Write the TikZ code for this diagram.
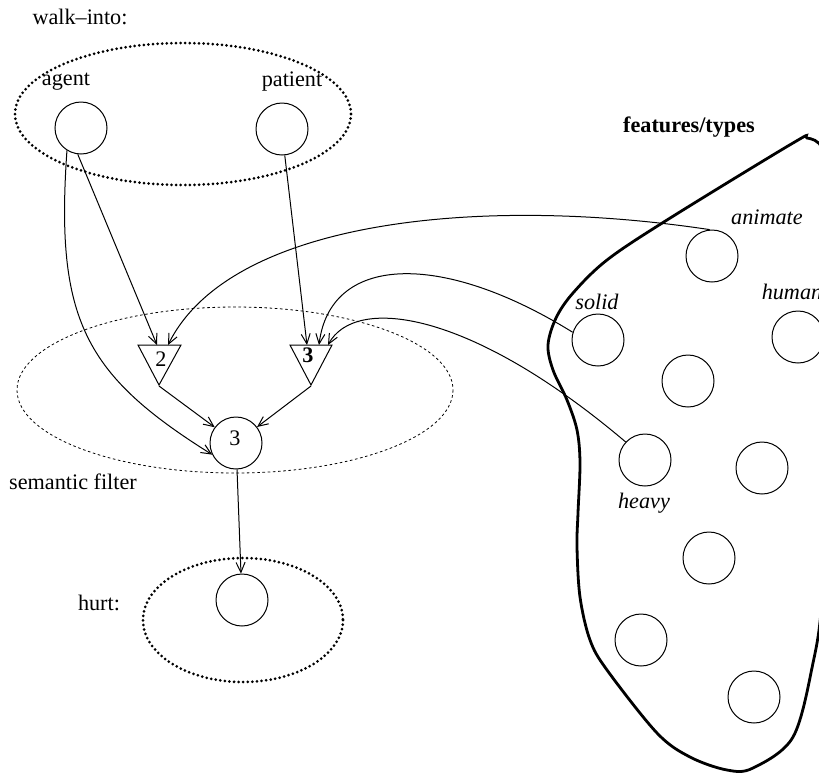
\documentclass[tikz,border=0pt]{standalone}
\usepackage{fontspec}
\setmainfont{Liberation Serif}
\usetikzlibrary{arrows.meta}
\begin{document}
\begin{tikzpicture}[x=0.5pt,y=-0.5pt,
  circ/.style={draw, circle, line width=0.5pt, minimum size=26pt, inner sep=0pt},
  lbl/.style={inner sep=0pt, font=\fontsize{11.1}{13}\selectfont},
  ilbl/.style={inner sep=0pt, font=\fontsize{11.1}{13}\selectfont\itshape},
  blbl/.style={inner sep=0pt, font=\fontsize{11.1}{13}\selectfont\bfseries},
  arr/.style={line width=0.5pt, -{Straight Barb[length=5pt,width=4.5pt]}},
  conn/.style={line width=0.5pt, line join=miter},
  bigdots/.style={line width=1.5pt, line cap=round, dash pattern=on 0pt off 2.3pt},
  finedash/.style={line width=0.4pt, dash pattern=on 1.3pt off 1.3pt},
]
\useasboundingbox (0,0) rectangle (819,773);

% --- walk-into frame ---
\node[lbl] (walk) at (80,17) {walk–into:};
\draw[bigdots] (183,114) ellipse [x radius=168, y radius=71];
\node[lbl] (agentl) at (66,82) {agent};
\node[lbl] (patientl) at (292,82) {patient};
\node[circ] (agent) at (81,128) {};
\node[circ] (patient) at (282,129) {};

% --- semantic filter ---
\draw[finedash] (235,390) ellipse [x radius=218, y radius=83];
\node[lbl] (semf) at (73,482) {semantic filter};
\draw[conn] (138,345) -- (181,345) -- (159,385) -- cycle;
\draw[conn] (290,345) -- (332,345) -- (311,385) -- cycle;
\node[lbl] (n2) at (161,359) {2};
\node[blbl] (n3) at (308,355) {3};
\coordinate (t2a) at (157,345);
\coordinate (t2c) at (168,345);
\coordinate (t2b) at (159,386);
\coordinate (t3a) at (307,345);
\coordinate (t3c) at (319,345);
\coordinate (t3d) at (328,345);
\coordinate (t3b) at (311,386);
\node[circ] (c3) at (236,443) {};
\node[lbl] (c3l) at (235,438) {3};

% --- hurt ---
\node[lbl] (hurtl) at (99,603) {hurt:};
\draw[bigdots] (243,620) ellipse [x radius=100, y radius=62];
\node[circ] (hurt) at (242,600) {};

% --- features/types ---
\node[blbl] (feat) at (689,127) {features/types};
\begin{scope}
\clip (0,0) rectangle (819,773);
\draw[line width=1.4pt] plot[smooth cycle, tension=0.55] coordinates {
 (807,138) (793,143) (667,220) (607,260) (573,293) (556,318) (548,345)
 (553,370) (567,400) (577,430) (580,463) (578,513) (577,547) (580,597)
 (590,640) (607,670) (657,733) (690,757) (727,770) (753,768) (793,737)
 (813,663) (822,600) (830,450) (832,300) (830,190) (822,148)};
\node[circ] (human) at (798,337) {};
\node[ilbl] (humanl) at (792,292) {human};
\end{scope}
\node[circ] (animate) at (712,256) {};
\node[ilbl] (animatel) at (767,217) {animate};
\node[circ] (solid) at (598,340) {};
\node[ilbl] (solidl) at (597,302) {solid};
\node[circ] (f4) at (688,381) {};
\node[circ] (heavy) at (645,460) {};
\node[ilbl] (heavyl) at (644,503) {heavy};
\node[circ] (f6) at (762,468) {};
\node[circ] (f7) at (709,558) {};
\node[circ] (f8) at (641,640) {};
\node[circ] (f9) at (754,697) {};

% --- connectors ---
\draw[arr] (agent.263) -- (t2a);
\draw[arr] (agent.238) .. controls (55,320) and (85,375) .. (c3.206);
\draw[arr] (patient.276) -- (t3a);
\draw[arr] (animate.95) .. controls (480,195) and (230,220) .. (t2c);
\draw[arr] (solid.163) .. controls (440,250) and (330,255) .. (t3c);
\draw[arr] (heavy.137) .. controls (470,310) and (355,295) .. (t3d);
\draw[arr] (t2b) -- (c3);
\draw[arr] (t3b) -- (c3);
\draw[arr] (c3) -- (hurt);
\end{tikzpicture}
\end{document}
